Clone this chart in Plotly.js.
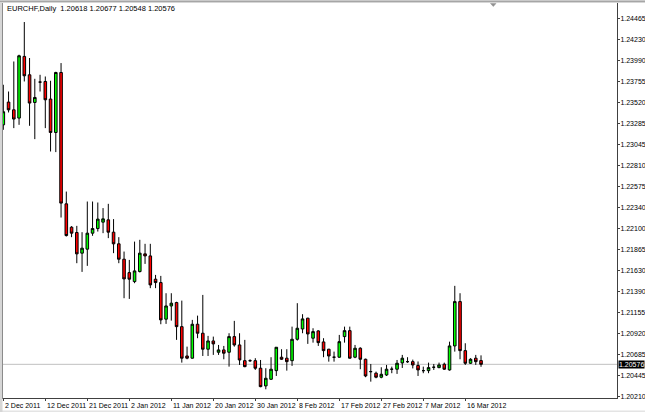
<!DOCTYPE html>
<html>
<head>
<meta charset="utf-8">
<script src="https://cdn.plot.ly/plotly-3.0.1.min.js"></script>
<style>html,body{margin:0;padding:0;background:#fff;overflow:hidden;}#chart{width:645px;height:412px;}</style>
</head>
<body>
<div id="chart"></div>
<script>
// ---- data (EURCHF daily bars) ----
var symbolName = "EURCHF,Daily";
var openP  = [1.23271,1.23527,1.23440,1.23347,1.24041,1.23834,1.23523,1.23752,1.23759,1.23561,
              1.23185,1.23860,1.22382,1.22119,1.22059,1.21827,1.21872,1.22052,1.22104,1.22176,
              1.22202,1.22063,1.21932,1.21759,1.21608,1.21507,1.21620,1.21819,1.21796,1.21534,
              1.21496,1.21084,1.21233,1.21271,1.21000,1.20670,1.20645,1.21027,1.20926,1.20746,
              1.20839,1.20712,1.20738,1.20712,1.20888,1.20794,1.20617,1.20617,1.20617,1.20532,
              1.20333,1.20408,1.20505,1.20656,1.20645,1.20617,1.20858,1.20974,1.21095,1.20870,
              1.20952,1.20828,1.20746,1.20656,1.20656,1.20888,1.20955,1.20656,1.20757,1.20633,
              1.20494,1.20476,1.20431,1.20456,1.20521,1.20521,1.20592,1.20606,1.20606,1.20563,
              1.20505,1.20505,1.20543,1.20539,1.20577,1.20513,1.20783,1.21282,1.20730,1.20588,
              1.20645,1.20618];
var highP  = [1.23722,1.23646,1.23984,1.24060,1.24428,1.24023,1.23789,1.23834,1.23815,1.23767,
              1.23868,1.23966,1.22520,1.22131,1.22134,1.22063,1.22408,1.22408,1.22397,1.22334,
              1.22382,1.22210,1.22007,1.21845,1.21751,1.21957,1.21977,1.21932,1.21932,1.21582,
              1.21571,1.21376,1.21376,1.21280,1.21293,1.20775,1.21076,1.21124,1.21357,1.20896,
              1.20888,1.20794,1.20783,1.20926,1.21065,1.20926,1.20851,1.20633,1.20645,1.20625,
              1.20532,1.20656,1.20770,1.20746,1.20746,1.21000,1.21264,1.21140,1.21100,1.20982,
              1.20960,1.20870,1.20750,1.20719,1.20907,1.21000,1.21000,1.20794,1.20768,1.20640,
              1.20580,1.20494,1.20543,1.20569,1.20550,1.20625,1.20682,1.20656,1.20629,1.20608,
              1.20550,1.20595,1.20580,1.20595,1.20595,1.20831,1.21459,1.21376,1.20813,1.20645,
              1.20682,1.20677];
var lowP   = [1.23215,1.23410,1.23234,1.23271,1.23759,1.23260,1.23110,1.23646,1.23234,1.22971,
              1.22964,1.22228,1.22014,1.22007,1.21714,1.21616,1.21684,1.22022,1.22070,1.22052,
              1.21996,1.21827,1.21714,1.21320,1.21312,1.21489,1.21610,1.21706,1.21433,1.21433,
              1.21027,1.21031,1.21068,1.20851,1.20595,1.20633,1.20640,1.20870,1.20670,1.20670,
              1.20682,1.20682,1.20633,1.20550,1.20775,1.20569,1.20543,1.20603,1.20513,1.20318,
              1.20295,1.20400,1.20445,1.20625,1.20505,1.20558,1.20843,1.20926,1.20806,1.20820,
              1.20783,1.20656,1.20606,1.20606,1.20650,1.20820,1.20640,1.20645,1.20521,1.20431,
              1.20381,1.20419,1.20419,1.20445,1.20476,1.20468,1.20535,1.20592,1.20530,1.20445,
              1.20476,1.20476,1.20513,1.20532,1.20513,1.20505,1.20719,1.20633,1.20569,1.20580,
              1.20569,1.20548];
var closeP = [1.23418,1.23440,1.23336,1.24048,1.23823,1.23516,1.23579,1.23752,1.23553,1.23185,
              1.23860,1.22390,1.22025,1.22052,1.21819,1.21883,1.22052,1.22104,1.22210,1.22213,
              1.22063,1.21932,1.21759,1.21537,1.21534,1.21627,1.21827,1.21796,1.21470,1.21496,
              1.21076,1.21233,1.21264,1.21000,1.20645,1.20645,1.21027,1.20926,1.20746,1.20839,
              1.20806,1.20738,1.20701,1.20888,1.20794,1.20625,1.20550,1.20617,1.20532,1.20325,
              1.20419,1.20521,1.20768,1.20633,1.20606,1.20858,1.20982,1.21087,1.20918,1.20944,
              1.20820,1.20730,1.20670,1.20656,1.20831,1.20955,1.20645,1.20757,1.20633,1.20445,
              1.20494,1.20431,1.20464,1.20521,1.20521,1.20588,1.20645,1.20606,1.20569,1.20513,
              1.20505,1.20539,1.20543,1.20569,1.20521,1.20783,1.21282,1.20730,1.20588,1.20633,
              1.20606,1.20576];
var dateTickBars  = [0,8,16,24,32,40,48,56,64,72,80,88];
var dateTickText  = ["2 Dec 2011","12 Dec 2011","21 Dec 2011","2 Jan 2012","11 Jan 2012","20 Jan 2012",
                     "30 Jan 2012","8 Feb 2012","17 Feb 2012","27 Feb 2012","7 Mar 2012","16 Mar 2012"];
var priceTicks    = [1.24465,1.24230,1.23990,1.23755,1.23520,1.23285,1.23045,1.22810,1.22575,1.22340,
                     1.22100,1.21865,1.21630,1.21390,1.21155,1.20920,1.20685,1.20445,1.20210];
var priceTickText = ["1.24465","1.24230","1.23990","1.23755","1.23520","1.23285","1.23045","1.22810","1.22575","1.22340",
                     "1.22100","1.21865","1.21630","1.21390","1.21155","1.20920","1.20685","1.20445","1.20210"];

// ---- build ----
var barIndex = openP.map(function(_, i){ return i; });
var n = closeP.length;
var last = {o: openP[n-1], h: highP[n-1], l: lowP[n-1], c: closeP[n-1]};
var FONT = "'Liberation Sans Narrow', 'Liberation Sans', Arial, sans-serif";
var FS = 7;

var trace = {
  type: 'candlestick',
  x: barIndex, open: openP, high: highP, low: lowP, close: closeP,
  increasing: {line: {color: '#000000', width: 1}, fillcolor: '#00ff00'},
  decreasing: {line: {color: '#000000', width: 1}, fillcolor: '#ff0000'},
  whiskerwidth: 0,
  hoverinfo: 'skip',
  showlegend: false
};

var PH = 395, PW = 614; // plot size in px for paper-coordinate helpers

// date labels sit just to the right of their tick, as in the terminal
var dateAnnotations = dateTickBars.map(function(b, k){
  return {xref: 'x', yref: 'paper', x: b, y: -7/PH, xanchor: 'left', yanchor: 'middle',
          xshift: 0, showarrow: false, text: dateTickText[k],
          font: {family: FONT, size: FS, color: '#000000'}};
});

var layout = {
  width: 645, height: 412,
  margin: {l: 3, r: 28, t: 3, b: 14, pad: 0},
  paper_bgcolor: '#ffffff', plot_bgcolor: '#ffffff',
  showlegend: false,
  font: {family: FONT, size: FS, color: '#000000'},
  xaxis: {
    range: [-0.06, 116.9],
    rangeslider: {visible: false},
    showgrid: false, zeroline: false,
    showline: true, linecolor: '#404040', linewidth: 1,
    tickmode: 'array', tickvals: dateTickBars, ticktext: dateTickText,
    ticks: 'outside', ticklen: 2, tickcolor: '#404040',
    showticklabels: false,
    fixedrange: true
  },
  yaxis: {
    side: 'right',
    range: [1.20197, 1.24642],
    showgrid: false, zeroline: false,
    showline: true, linecolor: '#404040', linewidth: 1, mirror: true,
    tickmode: 'array', tickvals: priceTicks, ticktext: priceTickText,
    ticks: 'outside', ticklen: 2, tickcolor: '#404040',
    ticklabelstandoff: -1,
    tickfont: {family: FONT, size: FS, color: '#000000'},
    fixedrange: true
  },
  shapes: [
    // bid line at the last close
    {type: 'line', xref: 'paper', yref: 'y', x0: 0, x1: 1, y0: last.c, y1: last.c,
     line: {color: '#c0c0c0', width: 1}, layer: 'below'},
    // window frame strips
    {type: 'rect', xref: 'paper', yref: 'paper', x0: -3/PW, x1: 1 + 28/PW, y0: 1, y1: 1 + 3.3/PH,
     fillcolor: '#d6d6d6', line: {width: 0}},
    {type: 'line', xref: 'paper', yref: 'paper', x0: -3/PW, x1: 1 + 28/PW, y0: 1 + 1.7/PH, y1: 1 + 1.7/PH,
     line: {color: '#9a9a9a', width: 1}},
    {type: 'rect', xref: 'paper', yref: 'paper', x0: -3/PW, x1: -0.5/PW, y0: -14/PH, y1: 1,
     fillcolor: '#d6d6d6', line: {width: 0}},
    {type: 'rect', xref: 'paper', yref: 'paper', x0: -3/PW, x1: 1 + 28/PW, y0: -14/PH, y1: -12.5/PH,
     fillcolor: '#e4e4e4', line: {width: 0}, layer: 'below'},
    // chart-shift marker
    {type: 'path', xref: 'paper', yref: 'paper',
     path: 'M ' + (487.5/PW) + ' ' + (1 - 0.5/PH) + ' L ' + (493/PW) + ' ' + (1 - 0.5/PH) +
           ' L ' + (490.3/PW) + ' ' + (1 - 3.5/PH) + ' Z',
     fillcolor: '#909090', line: {color: '#909090', width: 0.5}}
  ],
  annotations: [
    {xref: 'paper', yref: 'paper', x: 2/PW, y: 1 - 6/PH, xanchor: 'left', yanchor: 'middle',
     showarrow: false, align: 'left',
     text: symbolName + '  ' + last.o.toFixed(5) + ' ' + last.h.toFixed(5) + ' ' + last.l.toFixed(5) + ' ' + last.c.toFixed(5),
     font: {family: FONT, size: 7.5, color: '#000000'}},
    {xref: 'paper', yref: 'y', x: 1, y: last.c, xanchor: 'left', yanchor: 'middle',
     xshift: 1, showarrow: false, text: last.c.toFixed(5), bgcolor: '#000000', borderpad: 0,
     font: {family: FONT, size: FS, color: '#ffffff'}}
  ].concat(dateAnnotations)
};

Plotly.newPlot('chart', [trace], layout, {staticPlot: true, displayModeBar: false});
</script>
</body>
</html>
